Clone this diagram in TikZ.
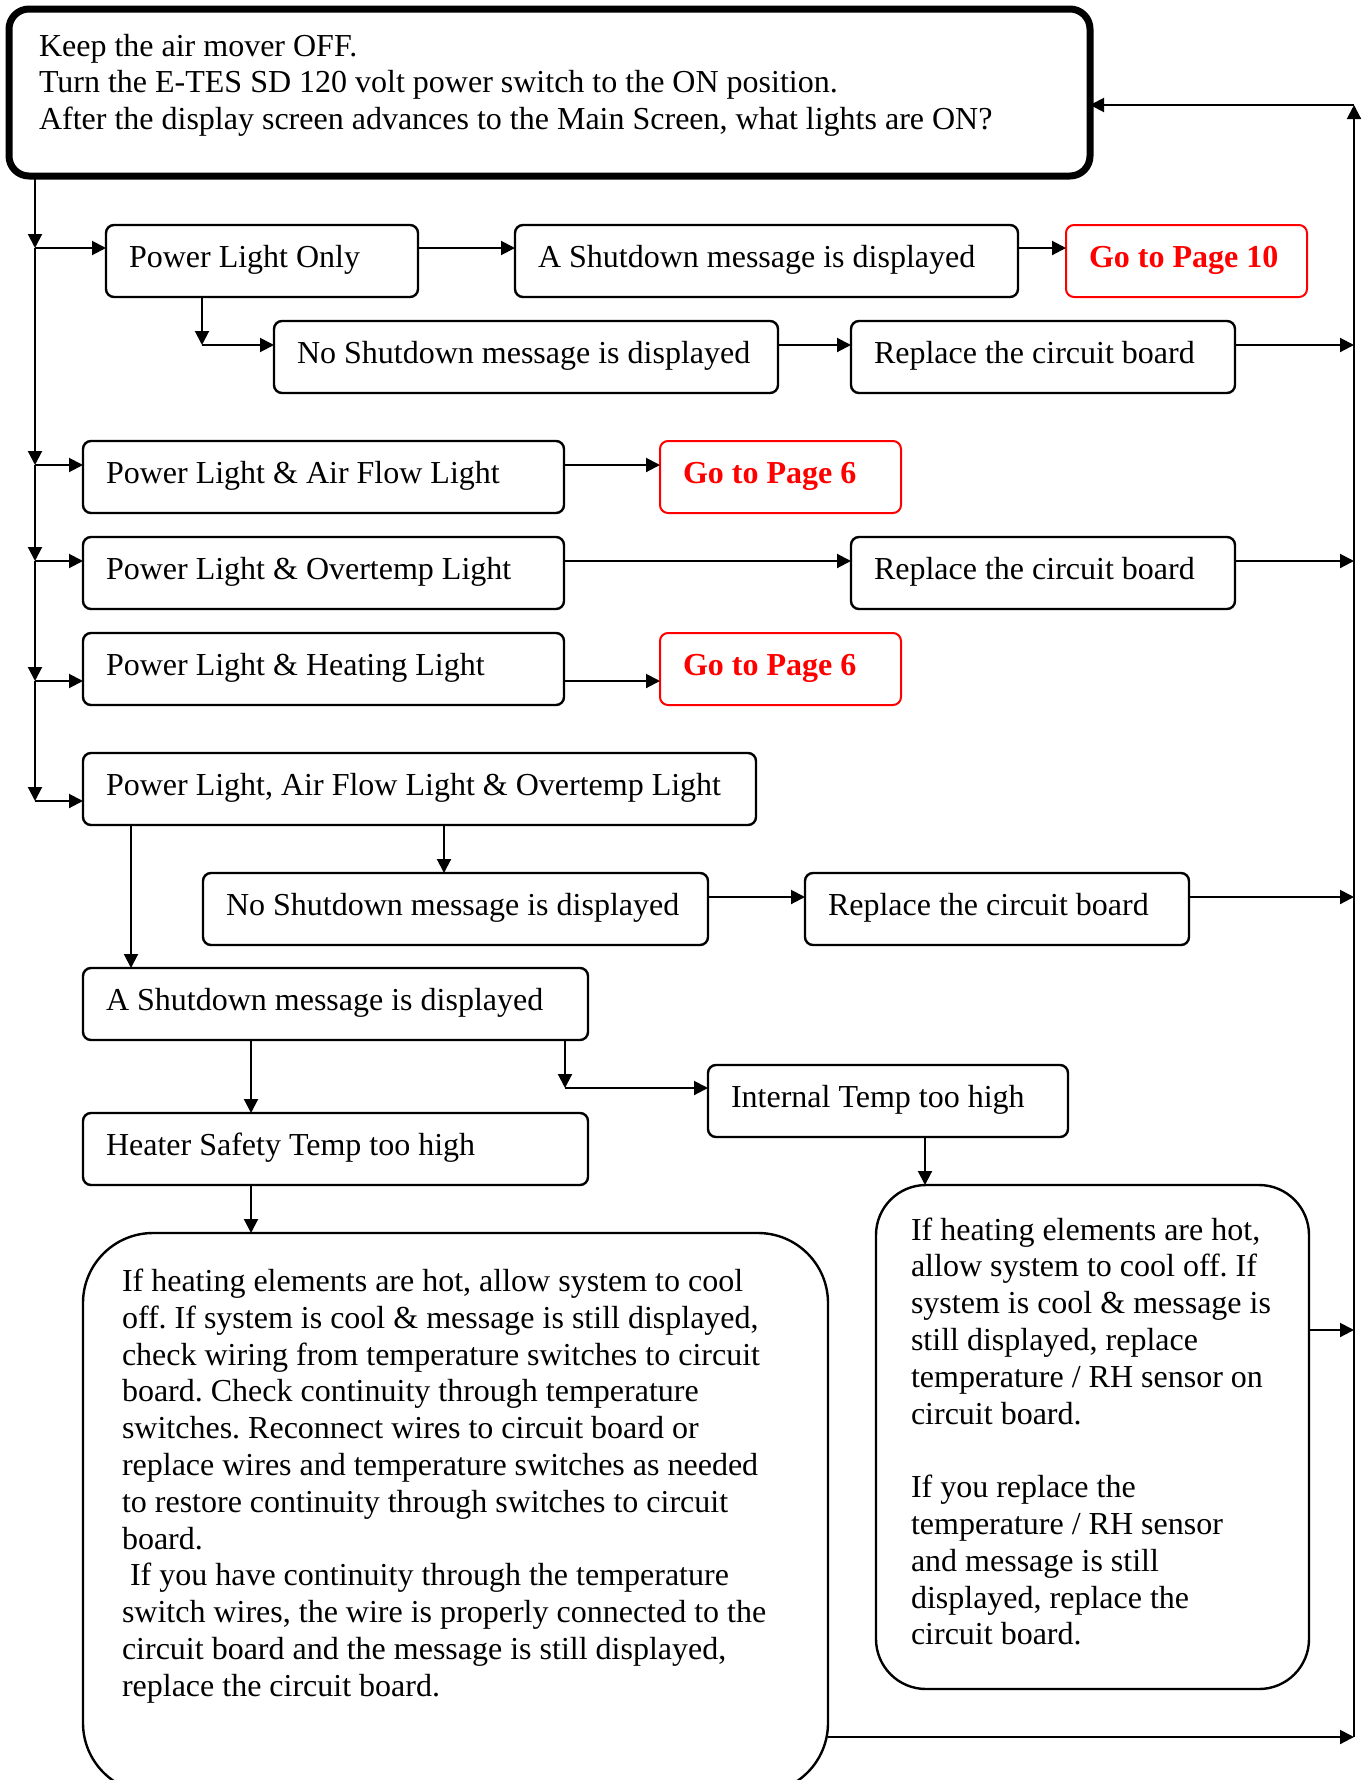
\documentclass[tikz,border=0pt]{standalone}
\usepackage{fontspec}
\setmainfont{Liberation Serif}
\usetikzlibrary{arrows.meta}
\newcommand\flowfont{\fontsize{32pt}{36.8pt}\selectfont}
\newcommand\flowbold{\fontsize{32pt}{36.8pt}\selectfont\bfseries}
\newcommand\wordgap{\spaceskip=8pt plus 2pt minus 1pt\relax}

\begin{document}
\frenchspacing
\begin{tikzpicture}[x=1pt,y=-1pt,
  font={\flowfont},
  box/.style={draw, line width=2.4pt, rounded corners=8pt, anchor=north west,
    outer sep=0pt, inner ysep=0pt, inner xsep=23pt, align=flush left,
    execute at begin node={\wordgap},
    text height=42pt, text depth=30pt},
  redbox/.style={box, draw=red, text=red, line width=2pt, font={\flowbold}},
  arr/.style={line width=2pt, -{Triangle[length=14pt,width=14pt]}}]

\useasboundingbox (0,0) rectangle (1361,1780);
\clip (0,0) rectangle (1361,1780);

% question box
\node[box, line width=7pt, rounded corners=20pt, inner xsep=30pt,
  text width=1021pt, text height=47pt, text depth=120pt] (top) at (9,9)
  {Keep the air mover OFF.\\
   Turn the E-TES SD 120 volt power switch to the ON position.\\
   After the display screen advances to the Main Screen, what lights are ON?};

% answers and actions
\node[box, text width=266pt] (plo) at (106,225) {Power Light Only};
\node[box, text width=457pt] (sd1) at (515,225) {A Shutdown message is displayed};
\node[redbox, text width=195pt] (g10) at (1066,225) {Go to Page 10};
\node[box, text width=458pt] (nsd1) at (274,321) {No Shutdown message is displayed};
\node[box, text width=338pt] (rep1) at (851,321) {Replace the circuit board};

\node[box, text width=435pt] (plaf) at (83,441) {Power Light \& Air Flow Light};
\node[redbox, text width=195pt] (g6a) at (660,441) {Go to Page 6};

\node[box, text width=435pt] (plov) at (83,537) {Power Light \& Overtemp Light};
\node[box, text width=338pt] (rep2) at (851,537) {Replace the circuit board};

\node[box, text width=435pt] (plh) at (83,633) {Power Light \& Heating Light};
\node[redbox, text width=195pt] (g6b) at (660,633) {Go to Page 6};

\node[box, text width=627pt] (plafo) at (83,753) {Power Light, Air Flow Light \& Overtemp Light};
\node[box, text width=459pt] (nsd2) at (203,873) {No Shutdown message is displayed};
\node[box, text width=338pt] (rep3) at (805,873) {Replace the circuit board};
\node[box, text width=459pt] (sd2) at (83,968) {A Shutdown message is displayed};
\node[box, text width=314pt] (itemp) at (708,1065) {Internal Temp too high};
\node[box, text width=459pt] (heat) at (83,1113) {Heater Safety Temp too high};

\node[box, rounded corners=70pt, inner xsep=39pt, text width=667pt,
  text height=58.5pt, text depth=501.5pt] (bigL) at (83,1233)
  {If heating elements are hot, allow system to cool\\
   off. If system is cool \& message is still displayed,\\
   check wiring from temperature switches to circuit\\
   board. Check continuity through temperature\\
   switches. Reconnect wires to circuit board or\\
   replace wires and temperature switches as needed\\
   to restore continuity through switches to circuit\\
   board.\\
   \hspace*{8pt}If you have continuity through the temperature\\
   switch wires, the wire is properly connected to the\\
   circuit board and the message is still displayed,\\
   replace the circuit board.};

\node[box, rounded corners=50pt, inner xsep=35pt, text width=363pt,
  text height=55pt, text depth=449pt] (bigR) at (876,1185)
  {If heating elements are hot,\\
   allow system to cool off. If\\
   system is cool \& message is\\
   still displayed, replace\\
   temperature / RH sensor on\\
   circuit board.\\[36.8pt]
   If you replace the\\
   temperature / RH sensor\\
   and message is still\\
   displayed, replace the\\
   circuit board.};

% junctions of the connectors
\coordinate (j1) at (35,248);
\coordinate (j2) at (35,465);
\coordinate (j3) at (35,561);
\coordinate (j4) at (35,681);
\coordinate (j5) at (35,801);
\coordinate (k1) at (202,345);
\coordinate (k2) at (0,897);
\coordinate (k3) at (565,1088);
\coordinate (k4) at (0,1330);
\coordinate (k5) at (0,1737);
\coordinate (k6) at (1354,105);
\coordinate (xR) at (1354,0);
\coordinate (xB) at (131,0);
\coordinate (xC) at (444,0);
\coordinate (xD) at (251,0);
\coordinate (xF) at (925,0);

% left spine
\draw[arr] (top.south -| j1) -- (j1);
\draw[arr] (j1) -- (j2);
\draw[arr] (j2) -- (j3);
\draw[arr] (j3) -- (j4);
\draw[arr] (j4) -- (j5);
\draw[arr] (j1) -- (j1 -| plo.west);
\draw[arr] (j2) -- (j2 -| plaf.west);
\draw[arr] (j3) -- (j3 -| plov.west);
\draw[arr] (j4) -- (j4 -| plh.west);
\draw[arr] (j5) -- (j5 -| plafo.west);

% power light only
\draw[arr] (j1 -| plo.east) -- (j1 -| sd1.west);
\draw[arr] (j1 -| sd1.east) -- (j1 -| g10.west);
\draw[arr] (plo.south -| k1) -- (k1);
\draw[arr] (k1) -- (k1 -| nsd1.west);
\draw[arr] (k1 -| nsd1.east) -- (k1 -| rep1.west);
\draw[arr] (k1 -| rep1.east) -- (k1 -| xR);

% two lights
\draw[arr] (j2 -| plaf.east) -- (j2 -| g6a.west);
\draw[arr] (j3 -| plov.east) -- (j3 -| rep2.west);
\draw[arr] (j3 -| rep2.east) -- (j3 -| xR);
\draw[arr] (j4 -| plh.east) -- (j4 -| g6b.west);

% three lights
\draw[arr] (plafo.south -| xB) -- (sd2.north -| xB);
\draw[arr] (plafo.south -| xC) -- (nsd2.north -| xC);
\draw[arr] (k2 -| nsd2.east) -- (k2 -| rep3.west);
\draw[arr] (k2 -| rep3.east) -- (k2 -| xR);
\draw[arr] (sd2.south -| xD) -- (heat.north -| xD);
\draw[arr] (sd2.south -| k3) -- (k3);
\draw[arr] (k3) -- (k3 -| itemp.west);
\draw[arr] (heat.south -| xD) -- (bigL.north -| xD);
\draw[arr] (itemp.south -| xF) -- (bigR.north -| xF);

% return path to the question
\draw[arr] (k4 -| bigR.east) -- (k4 -| xR);
\draw[arr] (k5 -| bigL.east) -- (k5 -| xR);
\draw[arr] (k5 -| xR) -- (k6);
\draw[arr] (k6) -- (k6 -| top.east);
\end{tikzpicture}
\end{document}
